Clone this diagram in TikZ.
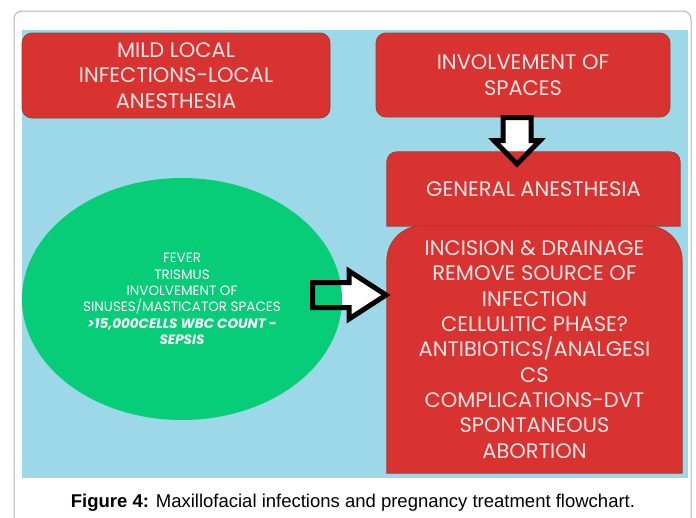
\documentclass[tikz,border=0pt]{standalone}
\usepackage{fontspec}
\setmainfont{Liberation Sans}
\newfontfamily\gothic{Poppins}
\usetikzlibrary{positioning,shapes.geometric,backgrounds}
\definecolor{SkyBack}{HTML}{9DD8E8}
\definecolor{BoxRed}{HTML}{D83330}
\definecolor{BoxEdge}{HTML}{9A4038}
\definecolor{PaleText}{HTML}{F8E4E4}
\definecolor{SignGreen}{HTML}{08CD78}
\definecolor{FrameGray}{HTML}{B4B4B4}
\tikzset{
  stagebox/.style={draw=BoxEdge,fill=BoxRed,rounded corners=10pt,line width=0.8pt,
    font=\gothic\fontsize{21}{25.5}\selectfont\color{PaleText},
    align=center,inner sep=2pt},
  stagetext/.style={font=\gothic\fontsize{21}{25.3}\selectfont\color{PaleText},
    align=center,inner sep=0pt},
  signnode/.style={ellipse,fill=SignGreen,inner sep=0pt,
    font=\gothic\fontsize{13.5}{16.4}\selectfont\color{white},align=center},
  arrowline/.style={draw=black,line width=5pt,line join=miter},
  arrowfill/.style={fill=white},
  rightblock/.pic={\path[pic actions] (0,-12.5) -- ++(36.5,0) -- ++(0,-11.5) -- ++(37,24)
    -- ++(-37,24) -- ++(0,-11.5) -- ++(-36.5,0) -- cycle;},
  downblock/.pic={\path[pic actions] (-14,0) -- ++(0,23) -- ++(-9,0) -- ++(23,23.5)
    -- ++(23,-23.5) -- ++(-9,0) -- ++(0,-23) -- cycle;},
}
\begin{document}
\begin{tikzpicture}[x=1pt,y=-1pt]
  \useasboundingbox (0,0) rectangle (696,517);
  \clip (0,0) rectangle (696,517);
  \node[stagebox,minimum width=308pt,minimum height=85pt] (mild) at (176,75.5)
    {MILD LOCAL\\INFECTIONS-LOCAL\\ANESTHESIA};
  \node[stagebox,minimum width=294pt,minimum height=84pt] (spaces) at (523,75)
    {INVOLVEMENT OF\\SPACES};
  \node[stagetext,minimum width=293pt,minimum height=74pt] (general) at (533.5,189)
    {GENERAL ANESTHESIA};
  \node[stagetext,minimum width=295pt,minimum height=247pt] (surgery) at (534.5,349.5)
    {INCISION \& DRAINAGE\\REMOVE SOURCE OF\\INFECTION\\CELLULITIC PHASE?\\
     ANTIBIOTICS/ANALGESI\\CS\\COMPLICATIONS-DVT\\SPONTANEOUS\\ABORTION};
  \node[signnode,minimum width=320pt,minimum height=242pt] (signs) at (182,299)
    {FEVER\\TRISMUS\\INVOLVEMENT OF\\SINUSES/MASTICATOR SPACES\\
     \textbf{\textit{>15,000CELLS WBC COUNT -}}\\\textbf{\textit{SEPSIS}}};
  \coordinate (downtop) at (517,117.5);
  \coordinate (righttail) at (312.5,295);
  \begin{scope}[on background layer]
    \draw[FrameGray,line width=1pt,rounded corners=8pt] (14,11) rectangle (691,560);
    \fill[SkyBack] (22,30) rectangle (688,478);
    \pic[arrowfill] at (downtop) {downblock};
    \pic[arrowfill] at (righttail) {rightblock};
    \path[fill=BoxRed,draw=BoxEdge,line width=0.8pt] (general.south west)
      [rounded corners=10pt] -- (general.north west) -- (general.north east)
      [sharp corners] -- (general.south east) -- cycle;
    \path[fill=BoxRed,draw=BoxEdge,line width=0.8pt] (surgery.south west)
      [rounded corners=35pt] -- (surgery.north west) -- (surgery.north east)
      [sharp corners] -- (surgery.south east) -- cycle;
  \end{scope}
  % block arrows
  \pic[arrowline] at (downtop) {downblock};
  \pic[arrowline] at (righttail) {rightblock};
  \node (caption) at (353,503)
    {\fontsize{18.5}{22}\selectfont\textbf{Figure 4:} Maxillofacial infections and pregnancy treatment flowchart.};
\end{tikzpicture}
\end{document}
